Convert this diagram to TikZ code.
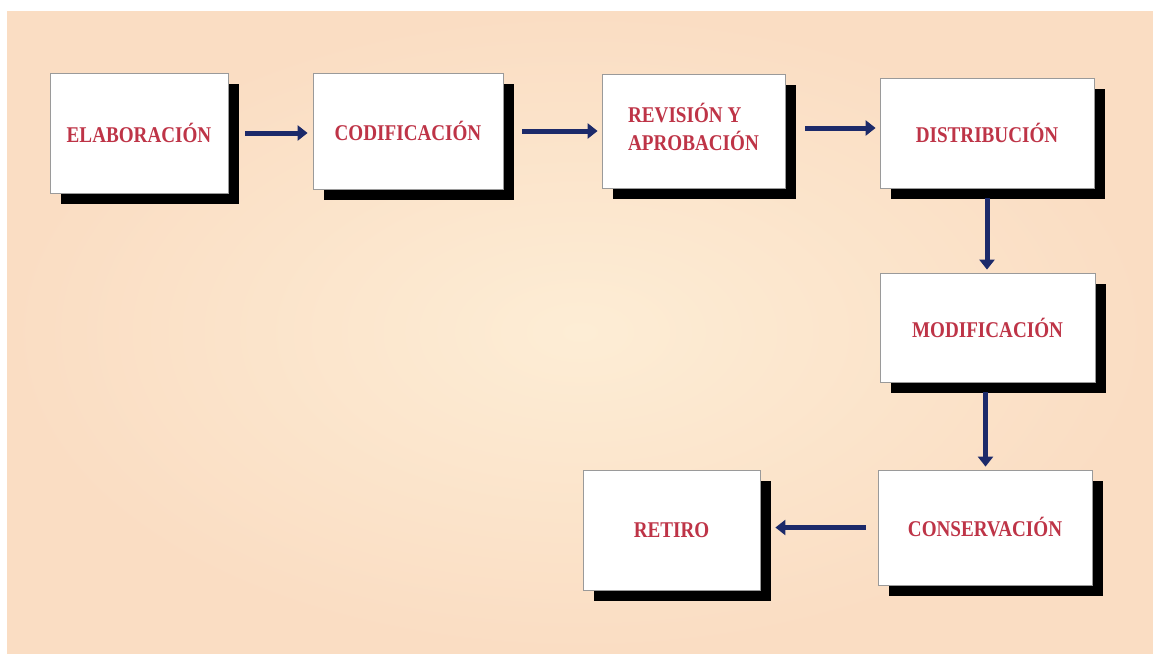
\documentclass[tikz,border=0pt]{standalone}
\usepackage{fontspec}
\setmainfont{Liberation Serif}[FakeStretch=0.85]
\usetikzlibrary{arrows.meta,shadows}
\definecolor{bgin}{HTML}{FDEDD5}
\definecolor{bgout}{HTML}{FADDC3}
\definecolor{txtred}{HTML}{BE3447}
\definecolor{navy}{HTML}{1C2A6A}
\definecolor{boxline}{HTML}{9A9A9A}
\tikzset{
  stepbox/.style={draw=boxline, line width=0.8pt, fill=white, rectangle,
    font=\bfseries\fontsize{22.5}{28}\selectfont, text=txtred, align=center,
    drop shadow={shadow xshift=11pt, shadow yshift=-11pt, fill=black, opacity=1}},
  flow/.style={draw=navy, line width=5pt, -{Triangle[length=10pt,width=15pt]}}
}
\begin{document}
\begin{tikzpicture}[x=1pt,y=-1pt]
\useasboundingbox (0,0) rectangle (1153,653);
\fill[white] (0,0) rectangle (1153,653);
\shade[inner color=bgin, outer color=bgout] (7,11) rectangle (1153,653);
\node[stepbox, minimum width=178pt, minimum height=120pt] (E) at (139,133) {ELABORACIÓN};
\node[stepbox, minimum width=190pt, minimum height=116pt] (C) at (408,131) {CODIFICACIÓN};
\node[stepbox, minimum width=183pt, minimum height=114pt] (R) at (693.5,131) {\begin{tabular}{@{}l@{}}REVISIÓN Y\\APROBACIÓN\end{tabular}};
\node[stepbox, minimum width=214pt, minimum height=110pt] (D) at (987,133) {DISTRIBUCIÓN};
\node[stepbox, minimum width=215pt, minimum height=109pt] (M) at (987.5,327.5) {MODIFICACIÓN};
\node[stepbox, minimum width=214pt, minimum height=115pt] (K) at (985,527.5) {CONSERVACIÓN};
\node[stepbox, minimum width=177pt, minimum height=120pt] (T) at (671.5,530) {RETIRO};
\draw[flow, shorten <=17pt, shorten >=5pt] (E.east) -- (E.east -| C.west);
\draw[flow, shorten <=19pt, shorten >=4pt] (C.east) -- (C.east -| R.west);
\draw[flow, shorten <=20pt, shorten >=4pt] ([yshift=3pt]R.east) -- ([yshift=3pt]R.east -| D.west);
\draw[flow, shorten <=10pt, shorten >=3pt] (D.south) -- (D.south |- M.north);
\draw[flow, shorten <=10pt, shorten >=3pt] ([xshift=-2pt]M.south) -- ([xshift=-2pt]M.south |- K.north);
\draw[flow, shorten <=12pt, shorten >=15pt] (K.west) -- (K.west -| T.east);
\end{tikzpicture}
\end{document}
